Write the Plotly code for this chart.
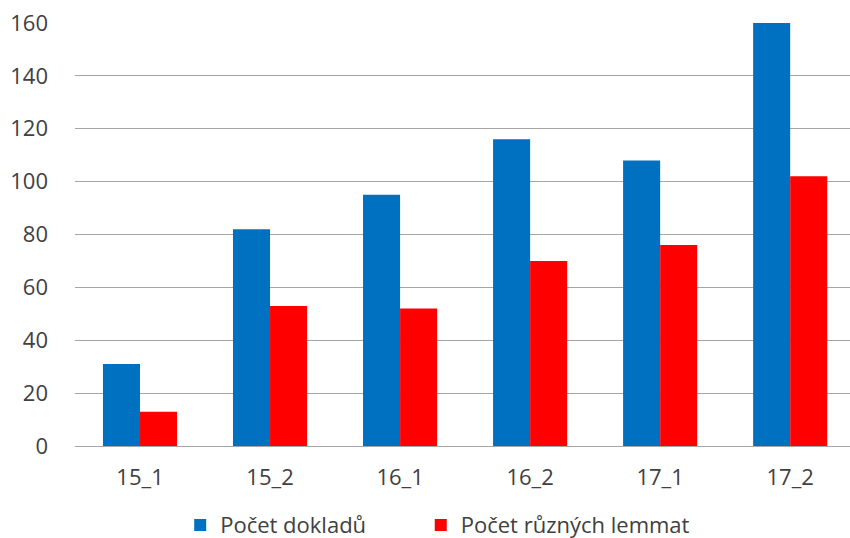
import plotly.graph_objects as go

categories = ["15_1", "15_2", "16_1", "16_2", "17_1", "17_2"]
doklady = [31, 82, 95, 116, 108, 160]
lemmata = [13, 53, 52, 70, 76, 102]
series_names = ["Počet dokladů", "Počet různých lemmat"]
colors = ["#0070C0", "#FF0000"]

font_family = "Open Sans, Liberation Sans, sans-serif"
fs = 22

fig = go.Figure()
fig.add_trace(go.Bar(x=categories, y=doklady, name=series_names[0], marker_color=colors[0],
                     marker_line_width=0, legend="legend"))
fig.add_trace(go.Bar(x=categories, y=lemmata, name=series_names[1], marker_color=colors[1],
                     marker_line_width=0, legend="legend2"))

leg_common = dict(orientation="h", xref="container", yref="container", y=0.024, yanchor="middle",
                  xanchor="left", font=dict(size=fs, color="#404040"), itemwidth=30,
                  bgcolor="rgba(0,0,0,0)")

fig.update_layout(
    width=850, height=538,
    margin=dict(l=75, r=0, t=23, b=92, autoexpand=False),
    paper_bgcolor="white", plot_bgcolor="white",
    barmode="group", bargap=0.43, bargroupgap=0,
    font=dict(family=font_family, size=fs, color="#404040"),
    showlegend=True,
    legend=dict(x=0.212, **leg_common),
    legend2=dict(x=0.495, **leg_common),
    xaxis=dict(range=[-0.5, 5.46], showgrid=False, showline=False, ticks="", automargin=False,
               ticklabelstandoff=16, tickfont=dict(size=fs, color="#404040")),
    yaxis=dict(range=[0, 160], dtick=20, showgrid=True, gridcolor="#A6A6A6", gridwidth=1,
               zeroline=True, zerolinecolor="#A6A6A6", zerolinewidth=1, automargin=False,
               showline=False, ticks="", ticklabelstandoff=26,
               tickfont=dict(size=fs, color="#404040")),
)

fig.write_html("out.html", config={"displayModeBar": False},
               post_script="document.body.style.margin='0';")
